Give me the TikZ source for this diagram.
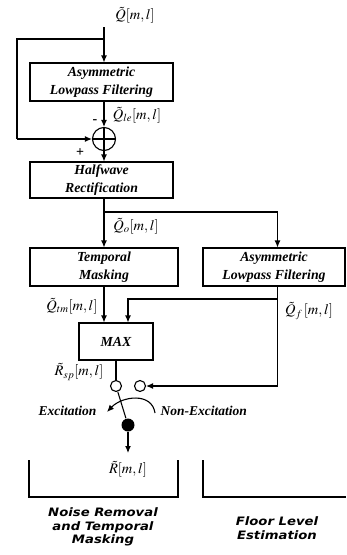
\documentclass[tikz,border=0pt]{standalone}
\usepackage{mathptmx}
\usepackage{fontspec}
\setmainfont{Liberation Serif}
\newfontfamily\labfont[FakeStretch=1.14]{DejaVu Sans}
\usetikzlibrary{arrows.meta,calc}
\begin{document}
\begin{tikzpicture}[x=1pt,y=-1pt, line width=1.1pt,
  box/.style={draw, rectangle, align=center, font=\fontsize{13.8}{17.5}\selectfont\bfseries\itshape, inner sep=0pt},
  arr/.style={-{Latex[length=7pt,width=6pt]}},
  lbl/.style={font=\fontsize{14.5}{16}\selectfont, inner sep=0pt},
  sgn/.style={font=\fontsize{14}{14}\selectfont\bfseries, inner sep=0pt},
  swl/.style={font=\fontsize{13.5}{14}\selectfont\bfseries\itshape, inner sep=0pt},
  swc/.style={draw, circle, minimum size=11pt, inner sep=0pt},
  grp/.style={font=\fontsize{11.6}{13.6}\selectfont\labfont\bfseries\itshape, align=center, inner sep=0pt},
]
\useasboundingbox (0,0) rectangle (346,555);

\node[box, minimum width=143pt, minimum height=38pt] (box1) at (101.5,82) {Asymmetric\\Lowpass Filtering};
\node[draw, circle, minimum size=23pt, inner sep=0pt,
  path picture={\draw (path picture bounding box.north) -- (path picture bounding box.south)
   (path picture bounding box.west) -- (path picture bounding box.east);}] (sum) at (104,139) {};
\node[box, minimum width=143pt, minimum height=36pt] (box2) at (101.5,180) {Halfwave\\Rectification};
\node[box, minimum width=148pt, minimum height=38pt] (box3) at (104,267) {Temporal\\Masking};
\node[box, minimum width=142pt, minimum height=38pt] (box4) at (274,267) {Asymmetric\\Lowpass Filtering};
\node[box, minimum width=74pt, minimum height=37pt] (max) at (116,341.5) {MAX};
\node[swc] (c1) at (116,386) {};
\node[swc] (c2) at (140,386) {};
\node[circle, fill, minimum size=13pt, inner sep=0pt] (dot) at (128,425) {};

\coordinate (in) at (104,27);
\coordinate (fb) at (104,39);
\coordinate (fbl) at (17,39);
\coordinate (fbb) at (17,139);
\coordinate (sp) at (104,212);
\coordinate (spr) at (277.5,212);
\coordinate (f1) at (277.5,299);
\coordinate (f2) at (128,299);
\coordinate (f3) at (277.5,386);
\coordinate (rout) at (128,453);
\coordinate (a1) at (155,413);
\coordinate (a2) at (107,412);

\draw[arr] (in) -- (in |- box1.north);
\draw (fb) -- (fbl) -- (fbb);
\draw[arr] (fbb) -- (sum.west);
\draw[arr] (sum.north |- box1.south) -- (sum.north);
\draw[arr] (sum.south) -- (sum.south |- box2.north);
\draw (sum.south |- box2.south) -- (sp) -- (spr);
\draw[arr] (sp) -- (sp |- box3.north);
\draw[arr] (spr) -- (spr |- box4.north);
\draw[arr] (sp |- box3.south) -- (sp |- max.north);
\draw (f1 |- box4.south) -- (f3);
\draw[arr] (f1) -- (f2) -- (f2 |- max.north);
\draw[arr] (f3) -- (c2.east);
\draw (max.south -| c1) -- (c1.north);
\draw (c1) -- (dot);
\draw[arr] (dot) -- (rout);
\draw[arr] (a1) .. controls (152,392) and (122,396) .. (a2);

\node[lbl] (lq) at (135,15) {$\tilde{Q}[m,l]$};
\node[lbl] (lqle) at (137,115) {$\tilde{Q}_{le}[m,l]$};
\node[sgn] (minus) at (95,122) {-};
\node[sgn] (plus) at (80,153) {+};
\node[lbl] (lqo) at (136,226) {$\tilde{Q}_{o}[m,l]$};
\node[lbl] (lqtm) at (72,306) {$\tilde{Q}_{tm}[m,l]$};
\node[lbl] (lqf) at (309,311) {$\tilde{Q}_{f}\,[m,l]$};
\node[lbl] (lrsp) at (79,372) {$\tilde{R}_{sp}[m,l]$};
\node[lbl] (lr) at (128,469) {$\tilde{R}[m,l]$};
\node[swl, anchor=east] (exc) at (97,411) {Excitation};
\node[swl, anchor=west] (nexc) at (160,411) {Non-Excitation};

\draw (29,460) -- (29,497) -- (178,497) -- (178,460);
\draw (203,460) -- (203,497) -- (346,497);
\node[grp] (g1) at (103,527) {Noise Removal\\and Temporal\\Masking};
\node[grp] (g2) at (277,528) {Floor Level\\Estimation};
\end{tikzpicture}
\end{document}
